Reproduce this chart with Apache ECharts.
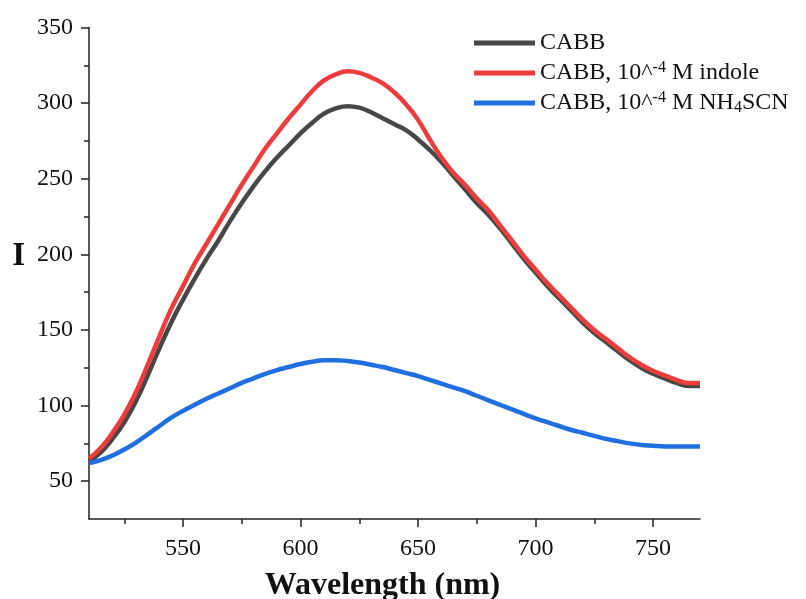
<!DOCTYPE html>
<html lang="en">
<head>
    <meta charset="UTF-8"/>
    <title>CABB emission spectra</title>
    <script src="https://cdn.jsdelivr.net/npm/echarts@6/dist/echarts.min.js"></script>
    <style>
        html, body {margin: 0; padding: 0; background: #fff;}
        #chart {width: 806px; height: 599px;}
    </style>
</head>
<body>
<div id="chart"></div>
<script type="text/javascript">
    // wavelength (nm)
    var wavelength = [510, 515, 520, 525, 530, 535, 540, 545, 550, 555, 560, 565, 570, 575, 580, 585, 590, 595,
        600, 605, 610, 615, 620, 625, 630, 635, 640, 645, 650, 655, 660, 665, 670, 675, 680, 685, 690, 695,
        700, 705, 710, 715, 720, 725, 730, 735, 740, 745, 750, 755, 760, 765, 770];
    var cabb = [63, 69, 78, 89, 103, 120, 138, 155, 170, 184, 197, 209, 222, 234, 245, 255, 264, 272,
        280, 287, 293, 296.5, 298, 297, 294, 290, 286, 282, 276, 269, 261, 252, 243, 234, 226, 217, 207, 197,
        188, 179, 171, 163, 155, 148, 142, 136, 130, 125, 121, 118, 115, 113, 113];
    var cabbIndole = [65, 72, 82, 94, 109, 127, 146, 164, 179, 194, 207, 220, 233, 246, 258, 270, 280, 290,
        299, 308, 315, 319, 321, 320, 317, 313, 307, 299, 289, 276, 264, 254, 246, 237, 229, 219, 209, 199,
        190, 181, 173, 165, 157, 150, 144, 138, 132, 127, 123, 120, 117, 115, 115];
    var cabbNh4scn = [62, 64, 67, 71, 75.5, 81, 86.5, 92, 96.5, 100.5, 104.5, 108, 111.5, 115, 118, 121, 123.5, 125.5,
        127.5, 129, 130, 130, 129.5, 128.5, 127, 125.5, 123.5, 121.5, 119.5, 117, 114.5, 112, 109.5, 106.5, 103.5, 100.5, 97.5, 94.5,
        91.5, 89, 86.5, 84, 82, 80, 78, 76.5, 75, 74, 73.5, 73, 73, 73, 73];

    var xTicks = [550, 600, 650, 700, 750];
    var xMinorTicks = [525, 575, 625, 675, 725];
    var yTicks = [50, 100, 150, 200, 250, 300, 350];
    var yMinorTicks = [75, 125, 175, 225, 275, 325];

    var names = ["CABB", "CABB, 10^-4 M indole", "CABB, 10^-4 M NH4SCN"];
    var legendText = {
        "CABB": "CABB",
        "CABB, 10^-4 M indole": "CABB, 10^{sup|-4} M indole",
        "CABB, 10^-4 M NH4SCN": "CABB, 10^{sup|-4} M NH{sub|4}SCN"
    };
    var colors = ["#474747", "#ee3b3b", "#1f6fe0"];

    var font = "Liberation Serif";
    var axisColor = "#222";

    function pairs(ys) {
        var out = [];
        for (var i = 0; i < wavelength.length; i++) {
            out.push([wavelength[i], ys[i]]);
        }
        return out;
    }

    var chart = echarts.init(document.getElementById("chart"));
    var option = {
        animation: false,
        backgroundColor: "#fff",
        color: colors,
        grid: {left: 89, top: 27.5, right: 106, bottom: 80, containLabel: false, outerBoundsMode: "none"},
        legend: {
            orient: "vertical",
            left: 474,
            top: 30,
            padding: 0,
            icon: "rect",
            itemWidth: 61,
            itemHeight: 5,
            itemGap: 4,
            data: names,
            formatter: function (name) {
                return legendText[name];
            },
            textStyle: {
                fontFamily: font, fontSize: 24, color: "#111", lineHeight: 26,
                rich: {
                    sup: {fontFamily: font, fontSize: 16, color: "#111", lineHeight: 14, verticalAlign: "top"},
                    sub: {fontFamily: font, fontSize: 16, color: "#111", lineHeight: 14, verticalAlign: "bottom"}
                }
            }
        },
        xAxis: [
            {
                type: "value", min: 510, max: 770, position: "bottom",
                axisLine: {show: true, lineStyle: {color: axisColor, width: 1.5}},
                axisTick: {show: true, customValues: xTicks, length: 8, lineStyle: {color: axisColor, width: 1.5}},
                axisLabel: {customValues: xTicks, margin: 18, fontFamily: font, fontSize: 24, color: "#111"},
                splitLine: {show: false},
                name: "Wavelength (nm)",
                nameLocation: "middle",
                nameGap: 51,
                nameTextStyle: {fontFamily: font, fontSize: 32, fontWeight: "bold", color: "#111", padding: [0, 24, 0, 0]}
            },
            {
                type: "value", min: 510, max: 770, position: "bottom",
                axisLine: {show: false},
                axisTick: {show: true, customValues: xMinorTicks, length: 5, lineStyle: {color: axisColor, width: 1.5}},
                axisLabel: {show: false},
                splitLine: {show: false}
            }
        ],
        yAxis: [
            {
                type: "value", min: 25, max: 350, position: "left",
                axisLine: {show: true, lineStyle: {color: axisColor, width: 1.5}},
                axisTick: {show: true, customValues: yTicks, length: 8, lineStyle: {color: axisColor, width: 1.5}},
                axisLabel: {customValues: yTicks, margin: 16, fontFamily: font, fontSize: 24, color: "#111"},
                splitLine: {show: false},
                name: "I",
                nameLocation: "middle",
                nameRotate: 0,
                nameGap: 64,
                nameTextStyle: {fontFamily: font, fontSize: 33, fontWeight: "bold", color: "#111", verticalAlign: "bottom", lineHeight: 34}
            },
            {
                type: "value", min: 25, max: 350, position: "left",
                axisLine: {show: false},
                axisTick: {show: true, customValues: yMinorTicks, length: 5, lineStyle: {color: axisColor, width: 1.5}},
                axisLabel: {show: false},
                splitLine: {show: false}
            }
        ],
        series: [
            {name: names[0], type: "line", data: pairs(cabb)},
            {name: names[1], type: "line", data: pairs(cabbIndole)},
            {name: names[2], type: "line", data: pairs(cabbNh4scn)}
        ].map(function (s, i) {
            s.xAxisIndex = 0;
            s.yAxisIndex = 0;
            s.smooth = 0.5;
            s.showSymbol = false;
            s.symbol = "none";
            s.lineStyle = {width: 4.5, color: colors[i]};
            s.itemStyle = {color: colors[i]};
            return s;
        })
    };
    chart.setOption(option);
</script>
</body>
</html>
